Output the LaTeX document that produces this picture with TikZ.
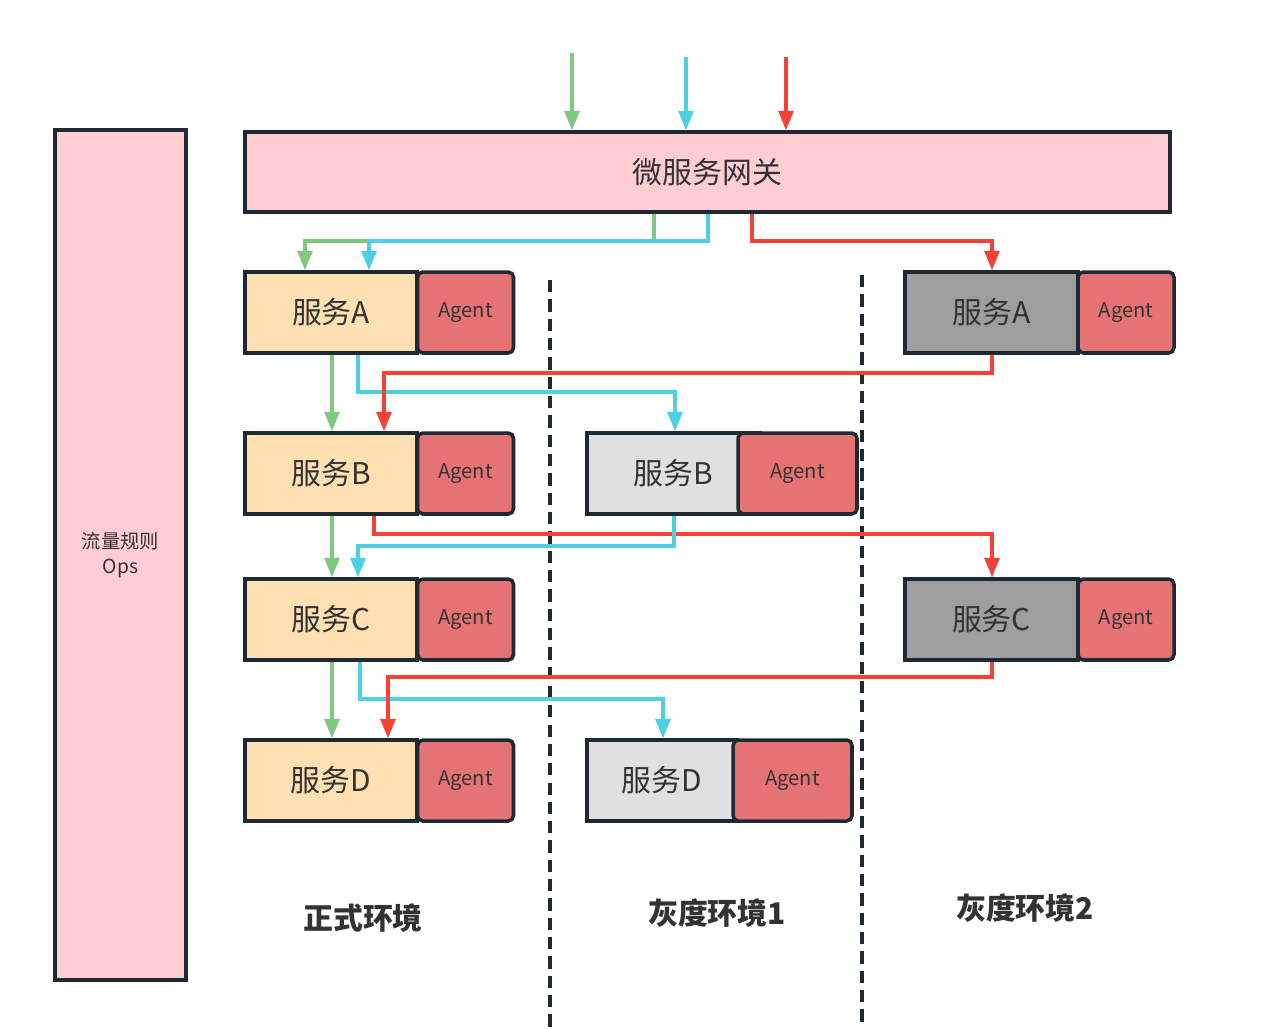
\documentclass[tikz,border=0pt]{standalone}
\usepackage{fontspec}
\setmainfont{Noto Sans CJK SC}
\usetikzlibrary{arrows.meta}
\definecolor{gwpink}{HTML}{FFCDD2}
\definecolor{prodfill}{HTML}{FFE0B2}
\definecolor{agentred}{HTML}{E57373}
\definecolor{graydark}{HTML}{9E9E9E}
\definecolor{graylight}{HTML}{E0E0E0}
\definecolor{edge}{HTML}{1E2A33}
\definecolor{txt}{HTML}{333333}
\definecolor{flowgreen}{HTML}{82C77E}
\definecolor{flowcyan}{HTML}{4DD0E1}
\definecolor{flowred}{HTML}{F44336}

\begin{document}
\begin{tikzpicture}[x=0.02cm,y=-0.02cm,
    box/.style={draw=edge,line width=2pt,inner sep=0pt,text=txt,
      minimum height=1.62cm,font=\fontsize{17}{20}\selectfont},
    svc/.style={box,minimum width=#1},
    agent/.style={box,fill=agentred,rounded corners=3pt,minimum width=#1,
      font=\fontsize{11.5}{14}\selectfont},
    flow/.style={line width=1.8pt,-{Triangle[length=11pt,width=8.5pt]}},
    envlabel/.style={text=txt,font=\fontsize{17}{20}\selectfont\bfseries},
    sep/.style={draw=edge,line width=2pt,dash pattern=on 7pt off 4pt}
  ]
  \useasboundingbox (0,0) rectangle (1280,1028);

  % gateway and rules
  \node[box,fill=gwpink,minimum width=18.5cm,minimum height=1.6cm] (gw) at (707.5,172) {微服务网关};
  \node[box,fill=gwpink,minimum width=2.62cm,minimum height=17cm,align=center,
        font=\fontsize{11}{14}\selectfont] (ops) at (120.5,555) {流量规则\\Ops};

  % separators
  \foreach \x/\y in {550/280,862/275}{
    \draw[sep] (\x,\y) -- (\x,1028);
  }

  % production
  \foreach \s/\y in {A/312.5,B/473.5,C/619.5,D/780.5}{
    \node[svc=3.44cm,fill=prodfill] (l\s) at (331,\y) {服务\s};
    \node[agent=1.92cm] (la\s) at (465.5,\y) {Agent};
  }

  % gray 1
  \node[svc=3.46cm,fill=graylight] (mB) at (673.5,473.5) {服务B};
  \node[agent=2.38cm] (maB) at (797.5,473.5) {Agent};
  \node[svc=3cm,fill=graylight] (mD) at (662,780.5) {服务D};
  \node[agent=2.38cm] (maD) at (792.5,780.5) {Agent};

  % gray 2
  \node[svc=3.46cm,fill=graydark] (rA) at (991.5,312.5) {服务A};
  \node[agent=1.92cm] (raA) at (1126,312.5) {Agent};
  \node[svc=3.46cm,fill=graydark] (rC) at (991.5,619.5) {服务C};
  \node[agent=1.92cm] (raC) at (1126,619.5) {Agent};

  \node[envlabel] (env0) at (363,918) {正式环境};
  \node[envlabel] (env1) at (717,913) {灰度环境1};
  \node[envlabel] (env2) at (1025,908) {灰度环境2};

  % incoming traffic
  \coordinate (inG) at (572,53);
  \coordinate (inC) at (686,57);
  \coordinate (inR) at (786,57);
  \draw[flow,flowgreen] (inG) -- (gw.north -| inG);
  \draw[flow,flowcyan] (inC) -- (gw.north -| inC);
  \draw[flow,flowred] (inR) -- (gw.north -| inR);

  % gateway out
  \draw[flow,flowgreen] (gw.south -| 654,0) |- (305,241) -- (lA.north -| 305,0);
  \draw[flow,flowcyan] (gw.south -| 708,0) |- (369,241) -- (lA.north -| 369,0);
  \draw[flow,flowred] (gw.south -| 752,0) |- (992,241) -- (rA.north -| 992,0);

  % A -> B
  \draw[flow,flowgreen] (lA.south -| 332,0) -- (lB.north -| 332,0);
  \draw[flow,flowcyan] (lA.south -| 358,0) |- (675,392) -- (mB.north -| 675,0);
  \draw[flow,flowred] (rA.south -| 992,0) |- (384,373) -- (lB.north -| 384,0);

  % B -> C
  \draw[flow,flowgreen] (lB.south -| 332,0) -- (lC.north -| 332,0);
  \draw[flow,flowred] (lB.south -| 374,0) |- (992,534) -- (rC.north -| 992,0);
  \draw[flow,flowcyan] (mB.south -| 674,0) |- (358,546) -- (lC.north -| 358,0);

  % C -> D
  \draw[flow,flowgreen] (lC.south -| 332,0) -- (lD.north -| 332,0);
  \draw[flow,flowcyan] (lC.south -| 360,0) |- (663,699) -- (mD.north -| 663,0);
  \draw[flow,flowred] (rC.south -| 992,0) |- (388,677) -- (lD.north -| 388,0);
\end{tikzpicture}
\end{document}
